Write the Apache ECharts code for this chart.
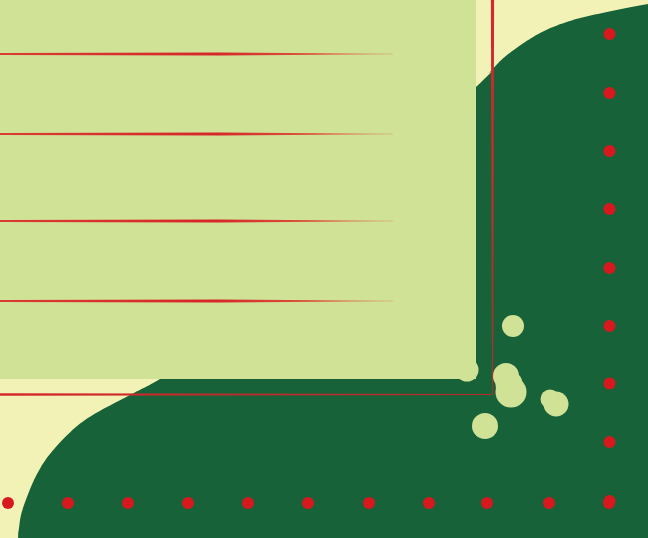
<!DOCTYPE html>
<html>
<head>
<meta charset="utf-8">
<script src="https://cdn.jsdelivr.net/npm/echarts@6/dist/echarts.min.js"></script>
<style>
html,body{margin:0;padding:0;background:#f2f2b6;}
#chart{width:648px;height:538px;}
</style>
</head>
<body>
<div id="chart"></div>
<script>
// ---- data (in the chart's own value units) ----
const fieldX = [18, 18, 19, 23, 37, 55, 85, 130, 160, 200, 320, 476, 490, 507, 540, 573, 607, 648, 700, 780, 780];
const fieldY = [620, 545, 528, 508, 474, 448, 420, 395, 379, 352, 235, 87, 72, 55, 33, 20, 12, 4, -3, -20, 620];

const panelX = [0, 476];
const panelY = [0, 379];

const ruleY = [54, 134, 221, 301];
const ruleFrom = 0;
const ruleTo = 393;

const frameX = 492.5;
const frameY = 394.5;

const blobX = [513, 467, 506, 509, 511, 556, 550, 485];
const blobY = [326, 370, 376, 384, 392, 404, 399, 426];
const blobSize = [22, 23, 26, 27, 31, 25, 19, 26];

const dotRowX = [8, 68, 128, 188, 248, 308, 369, 429, 487, 549, 609];
const dotRowY = 503;
const dotColX = 609.5;
const dotColY = [34, 93, 151, 209, 268, 326, 383.5, 442, 501];

// ---- chart ----
const chart = echarts.init(document.getElementById('chart'), null, {renderer: 'canvas'});

const RED = '#d7191f';
const LINE_RED = '#d6262a';

// Catmull-Rom rendering of the outline through the sampled points
function splineOutline(pts) {
  const out = [];
  const n = pts.length;
  for (let i = 0; i < n - 1; i++) {
    const p0 = pts[Math.max(0, i - 1)], p1 = pts[i], p2 = pts[i + 1], p3 = pts[Math.min(n - 1, i + 2)];
    const steps = 16;
    for (let s = 0; s < steps; s++) {
      const t = s / steps, t2 = t * t, t3 = t2 * t;
      const f = k => 0.5 * ((2 * p1[k]) + (-p0[k] + p2[k]) * t + (2 * p0[k] - 5 * p1[k] + 4 * p2[k] - p3[k]) * t2 + (-p0[k] + 3 * p1[k] - 3 * p2[k] + p3[k]) * t3);
      out.push([f(0), f(1)]);
    }
  }
  out.push(pts[n - 1]);
  return out;
}

function fieldItem(params, api) {
  const pts = fieldX.map((x, i) => api.coord([x, fieldY[i]]));
  return {type: 'polygon', shape: {points: splineOutline(pts)}, style: {fill: '#186239'}};
}
function panelItem(params, api) {
  const a = api.coord([panelX[0], panelY[0]]);
  const b = api.coord([panelX[1], panelY[1]]);
  return {type: 'rect', shape: {x: a[0], y: a[1], width: b[0] - a[0], height: b[1] - a[1]}, style: {fill: '#cfe296'}};
}
function ruleItem(params, api) {
  const y = api.value(0);
  const p0 = api.coord([ruleFrom, y]);
  const p1 = api.coord([ruleTo, y]);
  const pm = api.coord([(ruleFrom + ruleTo) * 0.56, y]);
  const pts = [
    [p0[0], p0[1] - 1.1], [pm[0], pm[1] - 1.5], [p1[0], p1[1] - 0.35],
    [p1[0], p1[1] + 0.35], [pm[0], pm[1] + 1.5], [p0[0], p0[1] + 1.1]
  ];
  return {
    type: 'polygon', shape: {points: pts},
    style: {fill: new echarts.graphic.LinearGradient(0, 0, 1, 0, [
      {offset: 0, color: '#dc3a34'},
      {offset: 0.55, color: LINE_RED},
      {offset: 0.8, color: 'rgba(220,60,45,0.85)'},
      {offset: 1, color: 'rgba(225,130,90,0.7)'}
    ])}
  };
}
function frameItem(params, api) {
  const top = api.coord([frameX, 0]);
  const corner = api.coord([frameX, frameY]);
  const left = api.coord([0, frameY]);
  const v = [[top[0] - 1.6, top[1]], [top[0] + 1.6, top[1]], [corner[0] + 0.5, corner[1]], [corner[0] - 0.5, corner[1]]];
  const h = [[left[0], left[1] - 1.25], [corner[0], corner[1] - 0.5], [corner[0], corner[1] + 0.5], [left[0], left[1] + 1.25]];
  return {
    type: 'group',
    children: [
      {type: 'polygon', shape: {points: v}, style: {fill: new echarts.graphic.LinearGradient(0, 0, 0, 1, [
        {offset: 0, color: '#d6282c'}, {offset: 1, color: '#b82a2a'}])}},
      {type: 'polygon', shape: {points: h}, style: {fill: new echarts.graphic.LinearGradient(0, 0, 1, 0, [
        {offset: 0, color: '#d6282c'}, {offset: 1, color: '#b82a2a'}])}}
    ]
  };
}

const option = {
  backgroundColor: '#f2f2b6',
  animation: false,
  grid: {left: 0, right: 0, top: 0, bottom: 0},
  xAxis: {type: 'value', min: 0, max: 648, show: false},
  yAxis: {type: 'value', min: 0, max: 538, inverse: true, show: false},
  series: [
    {type: 'custom', name: 'field', renderItem: fieldItem, data: [0], z: 1, clip: true, silent: true},
    {type: 'custom', name: 'panel', renderItem: panelItem, data: [0], z: 2, silent: true},
    {type: 'custom', name: 'rules', renderItem: ruleItem, data: ruleY.map(v => [v]), encode: {y: 0}, z: 3, silent: true},
    {type: 'custom', name: 'frame', renderItem: frameItem, data: [0], z: 3, silent: true},
    {
      type: 'scatter', name: 'blobs', z: 4, silent: true,
      data: blobX.map((x, i) => [x, blobY[i], blobSize[i]]),
      symbolSize: d => d[2],
      itemStyle: {color: '#cfe296', opacity: 1}
    },
    {
      type: 'scatter', name: 'dots', z: 5, silent: true,
      data: dotRowX.map(x => [x, dotRowY]).concat(dotColY.map(y => [dotColX, y])),
      symbolSize: 12,
      itemStyle: {color: RED, opacity: 1}
    }
  ]
};
chart.setOption(option);
</script>
</body>
</html>
